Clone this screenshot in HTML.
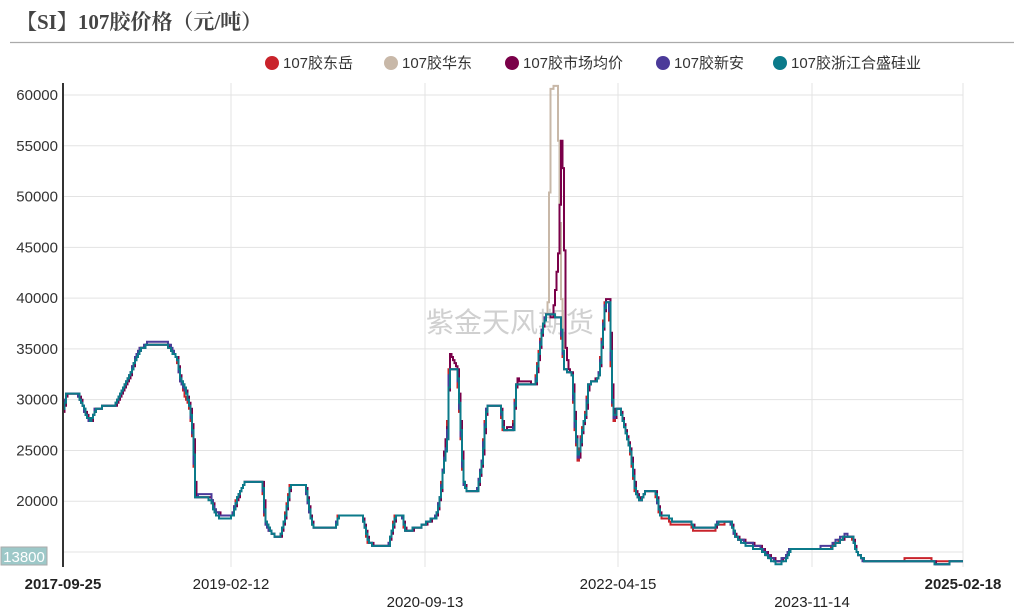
<!DOCTYPE html>
<html><head><meta charset="utf-8"><style>
body{margin:0;background:#fff;width:1018px;height:610px;overflow:hidden}
svg{display:block;font-family:"Liberation Sans","Noto Sans CJK SC",sans-serif}
</style></head><body>
<svg id="s" width="1018" height="610" xmlns="http://www.w3.org/2000/svg">
<text x="16" y="29" font-family="'Liberation Serif','Noto Serif CJK SC',serif" font-weight="bold" font-size="21" fill="#444">【SI】107胶价格（元/吨）</text>
<line x1="10" y1="42.5" x2="1014" y2="42.5" stroke="#aaa" stroke-width="1.2"/>
<g font-size="15" fill="#333">
<circle cx="272" cy="63" r="7" fill="#c9232b"/><text x="283" y="68">107胶东岳</text>
<circle cx="391" cy="63" r="7" fill="#c8b8a8"/><text x="402" y="68">107胶华东</text>
<circle cx="512" cy="63" r="7" fill="#7a0049"/><text x="523" y="68">107胶市场均价</text>
<circle cx="663" cy="63" r="7" fill="#4b3a99"/><text x="674" y="68">107胶新安</text>
<circle cx="780" cy="63" r="7" fill="#0b7a8a"/><text x="791" y="68">107胶浙江合盛硅业</text>
</g>
<g id="grid" stroke="#e3e3e3" stroke-width="1"></g>
<g id="yl" font-size="15" fill="#333" text-anchor="end"></g>
<text x="510" y="332" font-size="28" fill="#d0d0d0" text-anchor="middle" font-family="'Noto Sans CJK SC',sans-serif">紫金天风期货</text>
<g id="lines" fill="none" stroke-width="2" stroke-linejoin="miter"></g>
<line x1="63" y1="83" x2="63" y2="567" stroke="#333" stroke-width="2"/>
<rect x="1" y="547" width="46" height="18" fill="#9dc8c8" stroke="#aaa"/>
<text x="24" y="562" font-size="15" fill="#fff" text-anchor="middle">13800</text>
<g font-size="15" fill="#222" text-anchor="middle">
<text x="63" y="589" font-weight="bold">2017-09-25</text>
<text x="231" y="589">2019-02-12</text>
<text x="425" y="607">2020-09-13</text>
<text x="618" y="589">2022-04-15</text>
<text x="812" y="607">2023-11-14</text>
<text x="963" y="589" font-weight="bold">2025-02-18</text>
</g>
</svg>
<script>
const NS="http://www.w3.org/2000/svg";
const Y=p=>95+(60000-p)*0.010156;
const g=document.getElementById('grid'),yl=document.getElementById('yl');
for(let p=15000;p<=60000;p+=5000){const y=Y(p);let l=document.createElementNS(NS,'line');l.setAttribute('x1',63);l.setAttribute('x2',963);l.setAttribute('y1',y);l.setAttribute('y2',y);g.appendChild(l);
if(p>15000){let t=document.createElementNS(NS,'text');t.setAttribute('x',58);t.setAttribute('y',y+5);t.textContent=p;yl.appendChild(t);}}
[231,425,618,812,963].forEach(x=>{let l=document.createElementNS(NS,'line');l.setAttribute('x1',x);l.setAttribute('x2',x);l.setAttribute('y1',83);l.setAttribute('y2',567);g.appendChild(l);});
const base=[[63,29000],[66,30500],[78,30500],[82,29500],[86,28500],[90,27800],[95,29000],[100,29000],[103,29500],[115,29500],[120,30500],[125,31500],[130,32500],[135,34000],[140,35000],[150,35500],[165,35500],[170,35000],[177,34000],[180,32000],[185,31000],[190,29000],[193,26000],[195,20500],[210,20500],[215,19000],[222,18500],[232,18500],[236,20000],[240,21000],[245,22000],[262,22000],[265,18000],[270,17000],[275,16500],[280,16500],[285,18500],[290,21500],[305,21500],[310,18500],[313,17500],[335,17500],[338,18500],[362,18500],[368,16000],[375,15500],[388,15500],[395,18500],[402,18500],[405,17000],[420,17500],[428,18000],[436,18500],[440,20500],[444,24000],[447,26000],[449,33000],[457,33000],[460,28000],[463,22000],[466,21000],[477,21000],[482,24000],[485,28000],[487,29500],[500,29500],[503,27000],[513,27000],[516,31500],[535,31500],[538,34000],[542,37000],[546,38500],[549,38500],[560,38000],[564,33000],[572,32500],[575,27000],[578,24000],[582,27000],[586,29000],[588,31500],[598,32000],[600,33500],[605,39500],[609,39500],[612,30000],[614,28000],[616,29000],[620,29000],[625,27000],[630,25000],[635,21000],[640,20000],[645,21000],[655,21000],[660,18500],[668,18500],[672,18000],[690,18000],[693,17500],[715,17500],[718,18000],[730,18000],[735,16500],[745,16000],[760,15500],[770,14500],[778,14000],[785,14500],[790,15300],[830,15300],[835,15800],[845,16500],[852,16500],[856,15000],[865,14000],[900,14000],[910,14200],[930,14200],[935,13900],[963,14000]];
function interp(pts,x){for(let i=1;i<pts.length;i++){if(x<=pts[i][0]){const[a,b]=[pts[i-1],pts[i]];return a[1]+(b[1]-a[1])*(x-a[0])/(b[0]-a[0]||1);}}return pts[pts.length-1][1];}
function mk(col,off,spike,ph){let pts=base.map(([x,p])=>[x,p+off(x)]);
if(spike){pts=pts.filter(([x])=>x<spike[0][0]||x>spike[spike.length-1][0]);pts=pts.concat(spike).sort((a,b)=>a[0]-b[0]);}
let d='',prev=null;
for(let x=63;x<=963;x+=1.5){let p=Math.round(interp(pts,x+ph)/300)*300;const y=Y(p).toFixed(1);
if(prev===null)d='M'+x+' '+y;else{d+=' H'+x.toFixed(1)+' V'+y;}prev=y;}
let e=document.createElementNS(NS,'path');e.setAttribute('d',d);e.setAttribute('stroke',col);document.getElementById('lines').appendChild(e);}
mk('#c9232b',x=>(x>180&&x<190)?-600:(x>660&&x<720)?-300:(x>860?150:0),null,0.5);
mk('#c8b8a8',x=>0,[[546,38500],[548,40000],[550,60500],[557,61000],[559,50000],[561,40000],[564,33000]],0);
mk('#7a0049',x=>(x>440&&x<450)?1500:(x>510&&x<520)?500:(x>595&&x<610)?300:0,[[546,38500],[552,38000],[558,45000],[561,57500],[563,48000],[565,35000],[568,33000]],-0.5);
mk('#4b3a99',x=>(x>140&&x<175)?300:(x>195&&x<215)?300:(x>790&&x<850)?200:0,null,0.3);
mk('#0b7a8a',x=>(x>200&&x<230)?-300:(x>740&&x<790)?-300:0,null,0);
</script>
</body></html>
